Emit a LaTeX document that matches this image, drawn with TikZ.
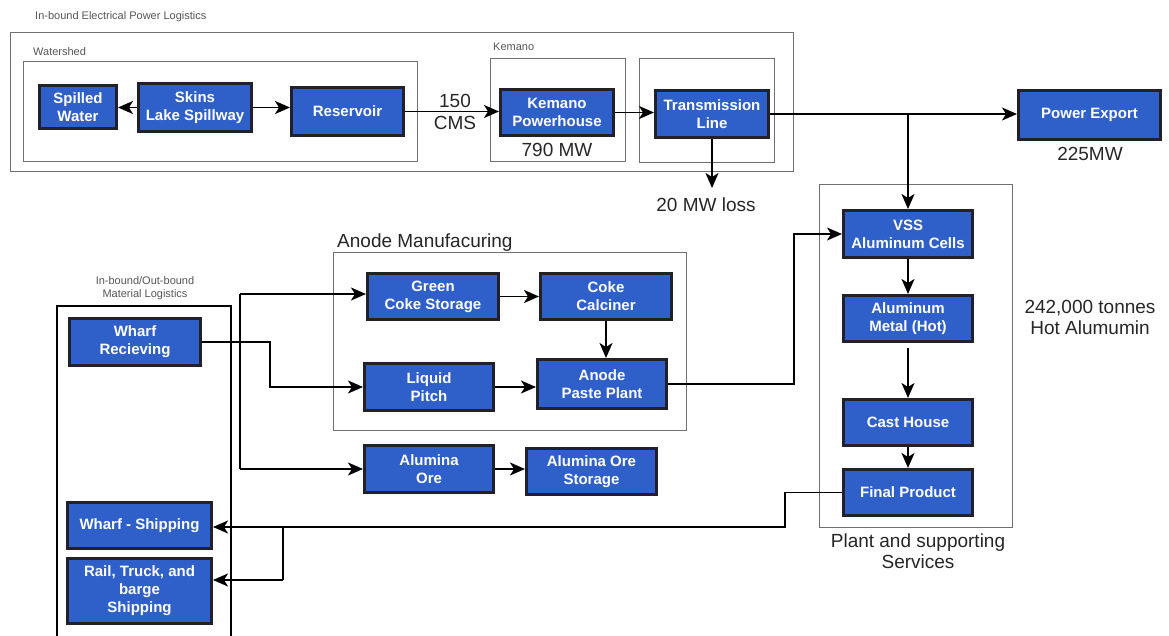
\documentclass[tikz,border=0pt]{standalone}
\usepackage{fontspec}
\setmainfont{Liberation Sans}
\usetikzlibrary{arrows.meta}
\definecolor{boxblue}{HTML}{2F5FC8}
\definecolor{boxedge}{HTML}{23202A}
\definecolor{grpgray}{HTML}{707070}
\definecolor{lblgray}{HTML}{555555}
\begin{document}
\begin{tikzpicture}[x=1pt,y=-1pt,
  proc/.style={draw=boxedge, line width=3pt, fill=boxblue, text=white, font=\bfseries\fontsize{15}{18}\selectfont, align=center, inner sep=0pt},
  grp/.style={draw=grpgray, line width=1pt},
  matgrp/.style={draw=black, line width=1.5pt},
  arr/.style={draw=black, line width=1.8pt, -{Stealth[length=15pt,width=13pt,inset=4pt]}},
  ln/.style={draw=black, line width=1.8pt},
  small/.style={text=lblgray, font=\fontsize{11}{12.5}\selectfont, inner sep=0pt, align=center},
  big/.style={text=black!85, font=\fontsize{19}{21.5}\selectfont, align=center, inner sep=0pt}]
\useasboundingbox (0,0) rectangle (1169,636);

% group frames
\draw[grp] (10,33) rectangle (793,172);
\draw[grp] (23,62) rectangle (417,162);
\draw[grp] (490,59) rectangle (625,162);
\draw[grp] (639,59) rectangle (774,163);
\draw[grp] (333,253) rectangle (686,430);
\draw[grp] (819,185) rectangle (1012,527);
\draw[matgrp] (57,636) -- (57,306) -- (231,306) -- (231,636);

% group labels
\node[small, anchor=west] (lblpower) at (35,17) {In-bound Electrical Power Logistics};
\node[small, anchor=west] (lblwater) at (33,52) {Watershed};
\node[small, anchor=west] (lblkemano) at (493,47) {Kemano};
\node[small] (lblmat) at (145,288) {In-bound/Out-bound\\Material Logistics};
\node[big, anchor=west] (lblanode) at (337,243) {Anode Manufacuring};
\node[big] (lblplant) at (918,551) {Plant and supporting\\Services};

% process boxes
\node[proc, minimum width=77pt, minimum height=43pt] (spilled) at (78,107) {Spilled\\Water};
\node[proc, minimum width=113pt, minimum height=48pt] (skins) at (195,107.5) {Skins\\Lake Spillway};
\node[proc, minimum width=112pt, minimum height=48pt] (reservoir) at (347.5,111.5) {Reservoir};
\node[proc, minimum width=113pt, minimum height=46pt] (kemano) at (557,112.5) {Kemano\\Powerhouse};
\node[proc, minimum width=113pt, minimum height=47pt] (transline) at (712,114) {Transmission\\Line};
\node[proc, minimum width=142pt, minimum height=49pt] (export) at (1089.5,115) {Power Export};
\node[proc, minimum width=129pt, minimum height=47pt] (vss) at (908,234) {VSS\\Aluminum Cells};
\node[proc, minimum width=129pt, minimum height=46pt] (almetal) at (908,318.5) {Aluminum\\Metal (Hot)};
\node[proc, minimum width=129pt, minimum height=46pt] (casthouse) at (908,422.5) {Cast House};
\node[proc, minimum width=129pt, minimum height=46pt] (final) at (908,492.5) {Final Product};
\node[proc, minimum width=131pt, minimum height=46pt] (gcs) at (433,296.5) {Green\\Coke Storage};
\node[proc, minimum width=131pt, minimum height=46pt] (cc) at (606,296.5) {Coke\\Calciner};
\node[proc, minimum width=129pt, minimum height=47pt] (lp) at (429,387) {Liquid\\Pitch};
\node[proc, minimum width=129pt, minimum height=49pt] (app) at (602,384) {Anode\\Paste Plant};
\node[proc, minimum width=129pt, minimum height=47pt] (ao) at (429,469) {Alumina\\Ore};
\node[proc, minimum width=130pt, minimum height=46pt] (aos) at (591.5,471.5) {Alumina Ore\\Storage};
\node[proc, minimum width=131pt, minimum height=47pt] (wharfrec) at (135,342) {Wharf\\Recieving};
\node[proc, minimum width=144pt, minimum height=46pt] (wharfship) at (139.5,525.5) {Wharf - Shipping};
\node[proc, minimum width=144pt, minimum height=65pt] (rail) at (139.5,591) {Rail, Truck, and\\barge\\Shipping};

% value labels
\node[big] (lblcms) at (455,112) {150\\CMS};
\node[big] (lbl790) at (557,150) {790 MW};
\node[big] (lblloss) at (706,205) {20 MW loss};
\node[big] (lbl225) at (1090,154) {225MW};
\node[big] (lbltonnes) at (1090,317.5) {242,000 tonnes\\Hot Alumumin};

% power connectors
\draw[arr] (skins.west) -- (spilled.east |- skins.west);
\draw[arr] (skins.east) -- (reservoir.west |- skins.east);
\draw[arr] (reservoir.east) -- (kemano.west |- reservoir.east);
\draw[arr] (kemano.east) -- (transline.west |- kemano.east);
\draw[arr] (transline.east) -- (export.west |- transline.east);
\coordinate (brvss) at (vss.north |- transline.east);
\draw[arr] (brvss) -- (vss.north);
\coordinate (lossend) at (712,188);
\draw[arr] (transline.south) -- (lossend);

% plant connectors
\draw[arr] (vss.south) -- (almetal.north);
\draw[arr] (almetal.south) ++(0,5) coordinate (amgap) -- (casthouse.north);
\draw[arr] (casthouse.south) -- (final.north);

% anode connectors
\draw[arr] (gcs.east) -- (cc.west);
\draw[arr] (cc.south) -- (app.north -| cc.south);
\draw[arr] (lp.east) -- (app.west |- lp.east);
\coordinate (appturn) at (794,384);
\draw[arr] (app.east) -- (appturn) |- (vss.west);
\draw[arr] (ao.east) -- (aos.west |- ao.east);

% material in-bound
\coordinate (wrturn) at (270,342);
\draw[arr] (wharfrec.east) -- (wrturn) |- (lp.west);
\coordinate (trunktop) at (240,294);
\coordinate (trunkbot) at (240,469);
\draw[ln] (trunktop) -- (trunkbot);
\draw[arr] (trunktop) -- (trunktop -| gcs.west);
\draw[arr] (trunkbot) -- (ao.west);

% out-bound
\coordinate (fpturn) at (785,527);
\coordinate (railbr) at (283,527);
\coordinate (railend) at (283,580);
\draw[arr] (final.west) -| (fpturn) -- (wharfship.east |- fpturn);
\draw[ln] (railbr) -- (railend);
\draw[arr] (railend) -- (rail.east |- railend);
\end{tikzpicture}
\end{document}
